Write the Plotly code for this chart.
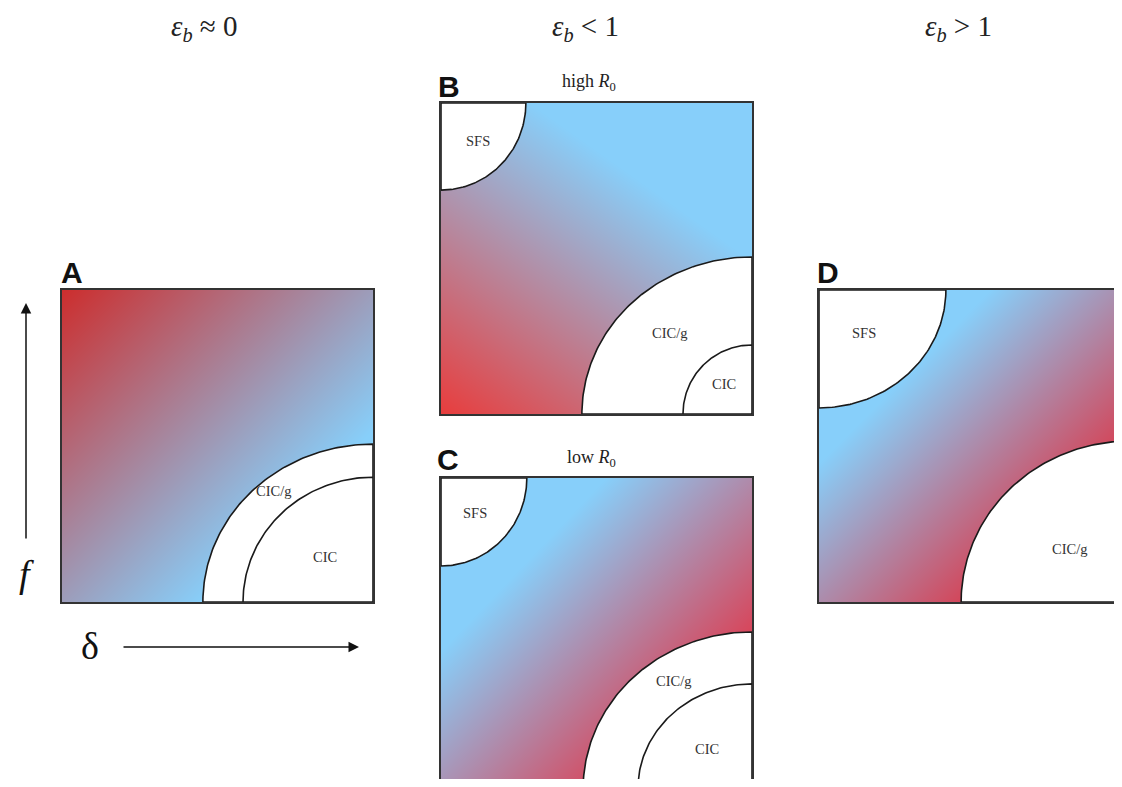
import numpy as np
import plotly.graph_objects as go

# page is 1122x787; the html body adds an 8px margin, so the figure is drawn inside it
PAGE_W, PAGE_H = 1122, 787
OFF = 8
W, H = PAGE_W - 2 * OFF, PAGE_H - 2 * OFF

# ---- data -----------------------------------------------------------------
panel_letters = ["A", "B", "C", "D"]
regime_titles = ["<i>ε</i><sub><i>b</i></sub> ≈ 0", "<i>ε</i><sub><i>b</i></sub> < 1", "<i>ε</i><sub><i>b</i></sub> > 1"]
subtitles_B_C = ["high <i>R</i><sub>0</sub>", "low <i>R</i><sub>0</sub>"]

# colour value at the panel corners (0 = red, 1 = light blue), rows: bottom, top; cols: left, right
grad_A = [[0.69, 1.38], [0.00, 0.69]]
grad_B = [[0.00, 0.59], [0.83, 1.42]]
grad_C = [[0.55, -0.51], [1.56, 0.50]]
grad_D = [[0.50, -0.63], [1.62, 0.49]]

red_A, red_B, red_C, red_D = "#cc2e2e", "#e83d3d", "#d8455a", "#d2485c"
blue = "#87cffa"

# white regions: name, corner, radius along delta, radius along f, label x, label y
regions_A = [("CIC/g", "br", 0.547, 0.506, 0.68, 0.355), ("CIC", "br", 0.418, 0.400, 0.846, 0.144)]
regions_B = [("SFS", "tl", 0.273, 0.280, 0.12, 0.877), ("CIC/g", "br", 0.547, 0.505, 0.736, 0.260),
             ("CIC", "br", 0.222, 0.222, 0.91, 0.098)]
regions_C = [("SFS", "tl", 0.276, 0.283, 0.109, 0.887), ("CIC/g", "br", 0.543, 0.505, 0.746, 0.347),
             ("CIC", "br", 0.367, 0.338, 0.855, 0.129)]
regions_D = [("SFS", "tl", 0.408, 0.378, 0.145, 0.862), ("CIC/g", "br", 0.543, 0.516, 0.807, 0.17)]

# ---- layout helpers (page pixel -> paper fraction) -------------------------
def px_x(p):
    return (p - OFF) / W

def px_y(p):
    return 1 - (p - OFF) / H

fig = go.Figure()

panels = [
    dict(grad=grad_A, red=red_A, regions=regions_A,
         xdom=[px_x(62), px_x(373)], ydom=[px_y(602), px_y(290)], xr=[0, 1], yr=[0, 1], box="full"),
    dict(grad=grad_B, red=red_B, regions=regions_B,
         xdom=[px_x(441), px_x(752)], ydom=[px_y(414), px_y(103)], xr=[0, 1], yr=[0, 1], box="full"),
    dict(grad=grad_C, red=red_C, regions=regions_C,
         xdom=[px_x(441), px_x(752)], ydom=[0, px_y(478)], xr=[0, 1],
         yr=[(789 - (PAGE_H - OFF)) / 311, 1], box="nobottom"),
    dict(grad=grad_D, red=red_D, regions=regions_D,
         xdom=[px_x(819), 1], ydom=[px_y(602), px_y(290)], xr=[0, (PAGE_W - OFF - 819) / 311],
         yr=[0, 1], box="noright"),
]

annotations = []
for i, p in enumerate(panels):
    n = "" if i == 0 else str(i + 1)
    xa, ya = "x" + n, "y" + n
    fig.add_trace(go.Heatmap(
        z=p["grad"], x=[0, 1], y=[0, 1], zsmooth="best", zmin=0, zmax=1,
        colorscale=[[0, p["red"]], [1, blue]], showscale=False, hoverinfo="skip",
        xaxis=xa, yaxis=ya))
    for (lab, corner, rx, ry, lx, ly) in p["regions"]:
        if corner == "br":
            th = np.linspace(np.pi / 2, np.pi, 90)
            cx, cy = 1.0, 0.0
        else:
            th = np.linspace(1.5 * np.pi, 2 * np.pi, 90)
            cx, cy = 0.0, 1.0
        xs = list(cx + rx * np.cos(th)) + [cx]
        ys = list(cy + ry * np.sin(th)) + [cy]
        xs.append(xs[0]); ys.append(ys[0])
        fig.add_trace(go.Scatter(x=xs, y=ys, mode="lines", fill="toself", fillcolor="white",
                                 line=dict(color="#1a1a1a", width=1.6), hoverinfo="skip",
                                 showlegend=False, xaxis=xa, yaxis=ya))
        annotations.append(dict(x=lx, y=ly, xref=xa, yref=ya, text=lab, showarrow=False,
                                xanchor="center", yanchor="middle",
                                font=dict(family="Liberation Serif", size=14.5, color="#333")))
    xkw = dict(domain=p["xdom"], range=p["xr"], showgrid=False, zeroline=False,
               showticklabels=False, ticks="", showline=True, linecolor="#333", linewidth=1.6,
               mirror=True, fixedrange=True, anchor=ya)
    ykw = dict(domain=p["ydom"], range=p["yr"], showgrid=False, zeroline=False,
               showticklabels=False, ticks="", showline=True, linecolor="#333", linewidth=1.6,
               mirror=True, fixedrange=True, anchor=xa)
    if p["box"] == "nobottom":
        xkw["side"] = "top"
        xkw["mirror"] = False
    if p["box"] == "noright":
        ykw["mirror"] = False
    fig.update_layout({("xaxis" + n): xkw, ("yaxis" + n): ykw})

def paper_text(x, y, text, size, family="Liberation Serif", color="#222", yanchor="middle"):
    return dict(x=px_x(x), y=px_y(y), xref="paper", yref="paper", text=text, showarrow=False,
                xanchor="center", yanchor=yanchor, font=dict(family=family, size=size, color=color))

# panel letters
letter_pos = [(72, 272), (449, 87), (448, 459), (828, 272)]
for L, (lx, ly) in zip(panel_letters, letter_pos):
    annotations.append(paper_text(lx, ly, "<b>" + L + "</b>", 30, "Liberation Sans", "#111"))

# subtitles
for t, (sx, sy) in zip(subtitles_B_C, [(589, 83), (591, 458)]):
    annotations.append(paper_text(sx, sy, t, 18))

# regime headers (top-anchored at the top of the figure)
for t, hx in zip(regime_titles, [204, 585, 958]):
    annotations.append(paper_text(hx, OFF, t, 29, yanchor="top"))

# axis arrows and symbols
annotations.append(dict(x=px_x(26), y=px_y(303), xref="paper", yref="paper", ax=0, ay=237,
                        axref="pixel", ayref="pixel", text="", showarrow=True, arrowhead=2,
                        arrowsize=1.4, arrowwidth=1.5, arrowcolor="#111"))
annotations.append(dict(x=px_x(359), y=px_y(647), xref="paper", yref="paper", ax=-237, ay=0,
                        axref="pixel", ayref="pixel", text="", showarrow=True, arrowhead=2,
                        arrowsize=1.4, arrowwidth=1.5, arrowcolor="#111"))
annotations.append(paper_text(26, 574, "<i>f</i>", 38, color="#111"))
annotations.append(paper_text(90, 646, "δ", 38, color="#111"))

fig.update_layout(width=W, height=H, margin=dict(l=0, r=0, t=0, b=0),
                  paper_bgcolor="white", plot_bgcolor="white", showlegend=False,
                  annotations=annotations)

fig.write_html("out.html")
